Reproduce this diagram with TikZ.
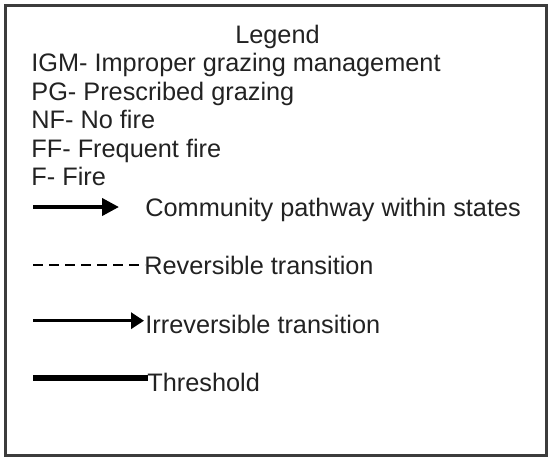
\documentclass[tikz,border=0pt]{standalone}
\usepackage{fontspec}
\setmainfont{Liberation Sans}
\usepackage{xcolor}
\usetikzlibrary{arrows.meta}
\definecolor{LegendInk}{RGB}{34,34,34}
\definecolor{FrameGray}{RGB}{60,60,60}

\begin{document}
\begin{tikzpicture}[x=0.5pt, y=-0.5pt, every node/.style={inner sep=0pt, anchor=base west, text=LegendInk, font=\fontsize{12.65pt}{14pt}\selectfont}]
    \useasboundingbox (0,0) rectangle (549,461);
    \draw[FrameGray, line width=1.25pt] (5.5,5.3) rectangle (546.3,455.3);

    \node[anchor=base] (title) at (277.5,43.3) {Legend};
    \node (igm) at (31,71.7) {IGM- Improper grazing management};
    \node (pg) at (31,100) {PG- Prescribed grazing};
    \node (nf) at (31,128.5) {NF- No fire};
    \node (ff) at (31,157) {FF- Frequent fire};
    \node (fire) at (31,185.5) {F- Fire};

    \coordinate (comm-a) at (33,207);
    \coordinate (comm-b) at (119,207);
    \coordinate (rev-a) at (33,265);
    \coordinate (rev-b) at (145,265);
    \coordinate (irr-a) at (33,320.7);
    \coordinate (irr-b) at (144,320.7);
    \coordinate (thr-a) at (33,377.7);
    \coordinate (thr-b) at (148,377.7);

    \node (comm) at (145,216.7) {Community pathway within states};
    \node (rev) at (144,274) {Reversible transition};
    \node (irr) at (145,333.5) {Irreversible transition};
    \node (thr) at (147,391.5) {Threshold};

    \draw[line width=2pt, -{Triangle[length=8.5pt, width=8.5pt]}] (comm-a) -- (comm-b);
    \draw[line width=0.6pt, dash pattern=on 5pt off 3pt] (rev-a) -- (rev-b);
    \draw[line width=1.75pt, -{Triangle[length=6.5pt, width=8pt]}] (irr-a) -- (irr-b);
    \draw[line width=3pt] (thr-a) -- (thr-b);
\end{tikzpicture}
\end{document}
